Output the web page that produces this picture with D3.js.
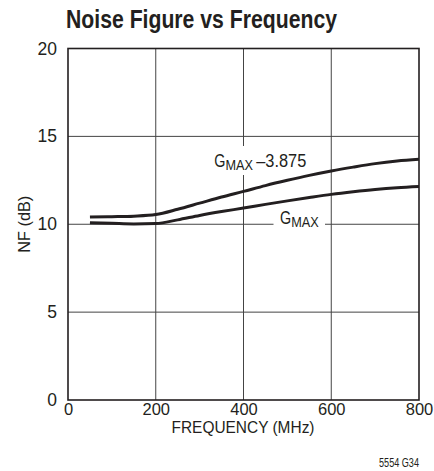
<!DOCTYPE html>
<html>
<head>
<meta charset="utf-8">
<script src="https://cdn.jsdelivr.net/npm/d3@7"></script>
<style>
  html, body { margin: 0; padding: 0; background: #fff; }
  svg text { font-family: "Liberation Sans", Arial, sans-serif; fill: #231f20; }
</style>
</head>
<body>
<svg id="chart" width="434" height="471"></svg>
<script>
// Noise figure (dB) against frequency (MHz) for two gain settings
const freqMHz = [50, 100, 150, 200, 250, 300, 350, 400, 450, 500, 550, 600, 650, 700, 750, 800];
const nfGmaxMinus = [10.41, 10.43, 10.46, 10.55, 10.85, 11.2, 11.55, 11.87, 12.2, 12.5, 12.78, 13.03, 13.25, 13.45, 13.6, 13.7];
const nfGmax = [10.08, 10.05, 10.02, 10.04, 10.25, 10.5, 10.72, 10.92, 11.13, 11.33, 11.52, 11.7, 11.85, 11.98, 12.08, 12.15];
const xTicks = [0, 200, 400, 600, 800];
const yTicks = [0, 5, 10, 15, 20];

const svg = d3.select("#chart");
const plot = { left: 68, right: 419, top: 48.5, bottom: 400 };

const x = d3.scaleLinear().domain([0, 800]).range([plot.left, plot.right]);
const y = d3.scaleLinear().domain([0, 20]).range([plot.bottom, plot.top]);

// title
svg.append("text")
  .attr("x", 66).attr("y", 28)
  .attr("font-size", 26).attr("font-weight", "bold")
  .attr("textLength", 271).attr("lengthAdjust", "spacingAndGlyphs")
  .text("Noise Figure vs Frequency");

// grid
const grid = svg.append("g").attr("stroke", "#444").attr("stroke-width", 1);
grid.selectAll("line.v").data(xTicks.slice(1, -1)).join("line")
  .attr("class", "v")
  .attr("x1", d => x(d)).attr("x2", d => x(d))
  .attr("y1", plot.top).attr("y2", plot.bottom);
grid.selectAll("line.h").data(yTicks.slice(1, -1)).join("line")
  .attr("class", "h")
  .attr("x1", plot.left).attr("x2", plot.right)
  .attr("y1", d => y(d)).attr("y2", d => y(d));

// axes with tick labels only
const xAxis = svg.append("g")
  .attr("transform", `translate(0,${plot.bottom})`)
  .call(d3.axisBottom(x).tickValues(xTicks).tickSize(0).tickPadding(3.5));
const yAxis = svg.append("g")
  .attr("transform", `translate(${plot.left},0)`)
  .call(d3.axisLeft(y).tickValues(yTicks).tickSize(0).tickPadding(11));
[xAxis, yAxis].forEach(a => {
  a.select(".domain").remove();
  a.selectAll("text").attr("font-size", 17.5)
    .attr("font-family", '"Liberation Sans", Arial, sans-serif')
    .attr("fill", "#231f20");
});
xAxis.selectAll("text").attr("font-size", 16.5);

// frame
svg.append("rect")
  .attr("x", plot.left).attr("y", plot.top)
  .attr("width", plot.right - plot.left).attr("height", plot.bottom - plot.top)
  .attr("fill", "none").attr("stroke", "#231f20").attr("stroke-width", 1.6);

// axis titles
svg.append("text")
  .attr("x", 171.5).attr("y", 432.5)
  .attr("font-size", 16.5)
  .attr("textLength", 143).attr("lengthAdjust", "spacingAndGlyphs")
  .text("FREQUENCY (MHz)");
svg.append("text")
  .attr("transform", `translate(30,${y(10)}) rotate(-90)`)
  .attr("x", -28.5)
  .attr("font-size", 17)
  .attr("textLength", 57).attr("lengthAdjust", "spacingAndGlyphs")
  .text("NF (dB)");

// curve labels (condensed G + subscript MAX) on a white backing that breaks the grid
function curveLabel(xPos, baseY, tail, box) {
  svg.append("rect")
    .attr("x", box[0]).attr("y", box[1]).attr("width", box[2]).attr("height", box[3])
    .attr("fill", "#fff");
  const t = svg.append("g")
    .attr("transform", `translate(${xPos},${baseY}) scale(0.82,1)`)
    .append("text").attr("x", 0).attr("y", 0).attr("font-size", 17.5);
  t.append("tspan").text("G");
  t.append("tspan").attr("font-size", 15.5).attr("dy", 2.8).text("MAX");
  if (tail) {
    t.append("tspan").attr("dy", -2.8).attr("dx", 4)
      .attr("textLength", 61).attr("lengthAdjust", "spacingAndGlyphs").text(tail);
  }
}
curveLabel(214.3, 166.7, "\u20133.875", [210, 146, 100, 29]);
curveLabel(280, 224, null, [273.5, 208, 51.5, 24]);

// curves
const line = d3.line().x(d => x(d[0])).y(d => y(d[1])).curve(d3.curveMonotoneX);
[nfGmaxMinus, nfGmax].forEach(series => {
  svg.append("path")
    .datum(freqMHz.map((f, i) => [f, series[i]]))
    .attr("d", line)
    .attr("fill", "none").attr("stroke", "#231f20").attr("stroke-width", 3);
});

// figure id
svg.append("text")
  .attr("x", 379).attr("y", 466.5)
  .attr("font-size", 12.5)
  .attr("textLength", 40).attr("lengthAdjust", "spacingAndGlyphs")
  .text("5554 G34");
</script>
</body>
</html>
